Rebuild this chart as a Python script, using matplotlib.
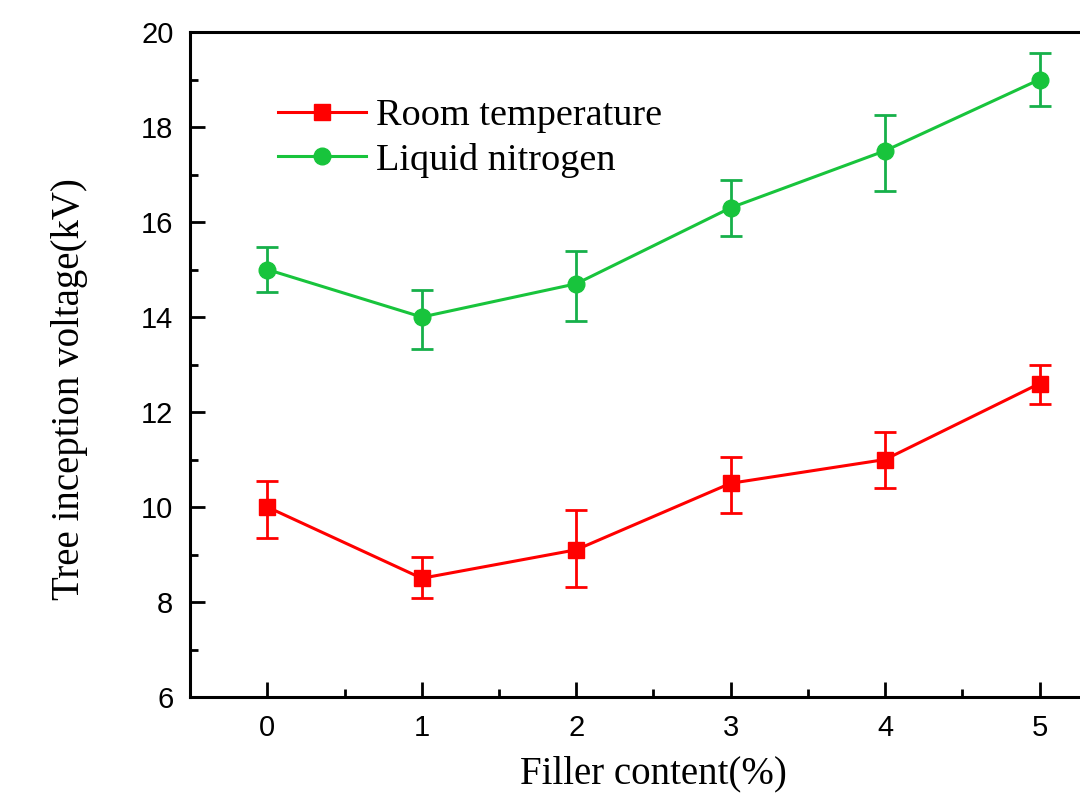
import matplotlib.pyplot as plt
from matplotlib.ticker import MultipleLocator

filler = [0, 1, 2, 3, 4, 5]

room = [10.0, 8.5, 9.1, 10.5, 11.0, 12.6]
room_lo = [0.65, 0.42, 0.79, 0.63, 0.6, 0.43]
room_hi = [0.55, 0.44, 0.84, 0.56, 0.57, 0.38]

ln2 = [15.0, 14.0, 14.7, 16.3, 17.5, 19.0]
ln2_lo = [0.48, 0.67, 0.79, 0.6, 0.84, 0.56]
ln2_hi = [0.48, 0.56, 0.68, 0.58, 0.76, 0.55]

fig = plt.figure(figsize=(10.8, 8.09), dpi=100)
ax = fig.add_axes([0.176, 0.1384, 0.858, 0.822])

eb1 = ax.errorbar(filler, room, yerr=[room_lo, room_hi], color='#FF0000', marker='s',
                  markersize=11, linewidth=2.2, elinewidth=2, capsize=8, capthick=2)
eb2 = ax.errorbar(filler, ln2, yerr=[ln2_lo, ln2_hi], color='#18C43C', ecolor='#16B04A',
                  marker='o', markersize=12, linewidth=2.2, elinewidth=2, capsize=8,
                  capthick=2)

ax.set_xlim(-0.5, 5.5)
ax.set_ylim(6, 20)
ax.xaxis.set_major_locator(MultipleLocator(1))
ax.xaxis.set_minor_locator(MultipleLocator(0.5))
ax.yaxis.set_major_locator(MultipleLocator(2))
ax.yaxis.set_minor_locator(MultipleLocator(1))
ax.tick_params(which='major', direction='in', length=11, width=2, labelsize=21,
               pad=12, top=False, right=False)
ax.tick_params(which='minor', direction='in', length=6, width=2, top=False, right=False)
for lab in ax.get_xticklabels() + ax.get_yticklabels():
    lab.set_family('Liberation Sans')
for s in ax.spines.values():
    s.set_linewidth(2.2)

ax.set_xlabel('Filler content(%)', family='Liberation Serif', fontsize=28, labelpad=10)
ax.set_ylabel('Tree inception voltage(kV)', family='Liberation Serif', fontsize=28)
ax.yaxis.set_label_coords(-0.110, 0.463)

ax.legend([eb1[0], eb2[0]], ['Room temperature', 'Liquid nitrogen'],
          loc='upper left', bbox_to_anchor=(0.058, 0.952), frameon=False,
          prop={'family': 'Liberation Serif', 'size': 27.5},
          handlelength=2.3, handletextpad=0.27, labelspacing=0.25)

fig.savefig('out.png', dpi=100)
